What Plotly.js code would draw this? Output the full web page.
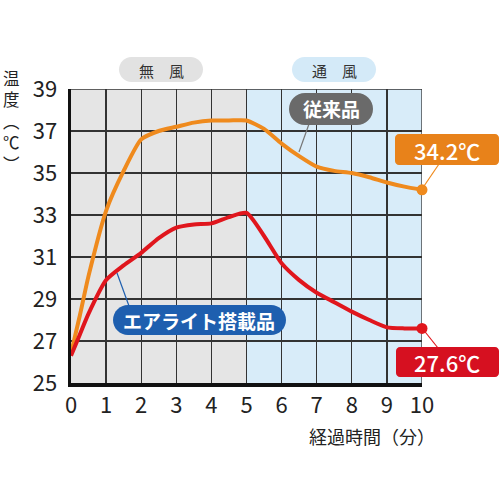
<!DOCTYPE html>
<html><head><meta charset="utf-8">
<script src="https://cdn.plot.ly/plotly-3.0.1.min.js"></script>
<style>html,body{margin:0;padding:0;background:#fff}#chart{width:500px;height:500px}</style>
</head><body><div id="chart"></div>
<script>
// ---- data ----
const minutes = [0,0.25,0.5,1,1.5,2,2.5,3,3.5,4,4.5,5,5.5,6,6.5,7,7.5,8,8.5,9,9.5,10];
const conventional = [26.4,28.2,30.1,33.2,35.1,36.6,37.0,37.2,37.4,37.5,37.5,37.5,37.1,36.4,35.8,35.3,35.1,35.0,34.8,34.55,34.35,34.2];
const airlite = [26.3,27.3,28.3,29.9,30.6,31.2,31.9,32.4,32.55,32.6,32.9,33.1,32.0,30.7,29.9,29.3,28.85,28.4,28.0,27.65,27.6,27.6];
const xTicks = [0,1,2,3,4,5,6,7,8,9,10];
const yTicks = [25,27,29,31,33,35,37,39];
const seriesNames = ['従来品','エアライト搭載品'];
const zoneNames = ['無　風','通　風'];
const yTitle = '温度︵℃︶';
const xTitle = '経過時間（分）';

// ---- layout helpers (pixel -> paper) ----
const L=71, R=78, T=89, B=117, W=500-L-R, H=500-T-B;
const px = x => (x-L)/W;
const py = y => (500-B-y)/H;
function rr(x0,y0,x1,y1,r){
  const k=0.5523*r;
  const p=(x,y)=>px(x).toFixed(5)+','+py(y).toFixed(5);
  return 'M'+p(x0+r,y0)+' L'+p(x1-r,y0)+' C'+p(x1-r+k,y0)+' '+p(x1,y0+r-k)+' '+p(x1,y0+r)+
    ' L'+p(x1,y1-r)+' C'+p(x1,y1-r+k)+' '+p(x1-r+k,y1)+' '+p(x1-r,y1)+
    ' L'+p(x0+r,y1)+' C'+p(x0+r-k,y1)+' '+p(x0,y1-r+k)+' '+p(x0,y1-r)+
    ' L'+p(x0,y0+r)+' C'+p(x0,y0+r-k)+' '+p(x0+r-k,y0)+' '+p(x0+r,y0)+' Z';
}
function box(x0,y0,x1,y1,r,color){
  return {type:'path',xref:'paper',yref:'paper',path:rr(x0,y0,x1,y1,r),fillcolor:color,line:{width:0},layer:'above'};
}
function seg(x0,y0,x1,y1,color){
  return {type:'line',xref:'paper',yref:'paper',x0:px(x0),y0:py(y0),x1:px(x1),y1:py(y1),line:{color:color,width:1.2},layer:'above'};
}
function txt(x,y,text,size,color,weight,extra){
  return Object.assign({xref:'paper',yref:'paper',x:px(x),y:py(y),text:text,showarrow:false,
    xanchor:'center',yanchor:'middle',font:{family:'"Noto Sans CJK JP", "Noto Sans", sans-serif',size:size,color:color,weight:weight||400}},extra||{});
}

const ORANGE='#ef8a1d', RED='#e0161d';
const lastC = conventional[conventional.length-1];
const lastA = airlite[airlite.length-1];
const lastT = minutes[minutes.length-1];

const traces = [
  {x:minutes,y:conventional,name:seriesNames[0],mode:'lines',line:{color:ORANGE,width:4,shape:'spline',smoothing:0.6},hoverinfo:'skip'},
  {x:minutes,y:airlite,name:seriesNames[1],mode:'lines',line:{color:RED,width:4,shape:'spline',smoothing:0.6},hoverinfo:'skip'},
  {x:[lastT],y:[lastC],mode:'markers',marker:{color:ORANGE,size:11},cliponaxis:false,hoverinfo:'skip'},
  {x:[lastT],y:[lastA],mode:'markers',marker:{color:RED,size:11},cliponaxis:false,hoverinfo:'skip'}
];

const shapes = [
  {type:'rect',xref:'x',yref:'y',x0:0,x1:5,y0:25,y1:39,fillcolor:'#e5e5e5',line:{width:0},layer:'below'},
  {type:'rect',xref:'x',yref:'y',x0:5,x1:10,y0:25,y1:39,fillcolor:'#d8ecf9',line:{width:0},layer:'below'},
  {type:'line',xref:'x',yref:'y',x0:0,x1:10,y0:39,y1:39,line:{color:'#333',width:1.3},layer:'below'},
  {type:'line',xref:'x',yref:'y',x0:10,x1:10,y0:25,y1:39,line:{color:'#333',width:1.3},layer:'below'},
  box(119,57,203,82,12.5,'#e2e2e2'),
  box(292,57,376,82,12.5,'#d4eaf8'),
  seg(309,124,299,152,'#777'),
  box(289,93,373,125,16,'#6a6a6a'),
  seg(439,164,422,189,ORANGE),
  box(395,134,499,165,4,'#e8821a'),
  seg(422,328,438,348,RED),
  box(396,347,499,377,4,'#d61020'),
  seg(129,306,117,273,'#1e5faf'),
  box(113,305,286,335,15,'#1e5faf')
];

const annotations = [
  txt(161,70,zoneNames[0],15,'#333'),
  txt(334,70,zoneNames[1],15,'#333'),
  txt(331,109,seriesNames[0],19,'#fff',700),
  txt(447,150,lastC.toFixed(1)+'℃',22,'#fff',500),
  txt(447,362,lastA.toFixed(1)+'℃',22,'#fff',500),
  txt(199,320,seriesNames[1],19,'#fff',700),
  txt(372,436,xTitle,18,'#222'),
  txt(11,121,yTitle.split('').join('<br>'),16.5,'#222')
];

const axisFont = {family:'"Noto Sans CJK JP", "Noto Sans", sans-serif',size:22,color:'#222'};
const layout = {
  width:500,height:500,
  margin:{l:L,r:R,t:T,b:B,pad:0},
  paper_bgcolor:'#fff',plot_bgcolor:'rgba(0,0,0,0)',
  showlegend:false,
  xaxis:{range:[0,10],tickvals:xTicks,ticktext:xTicks.map(String),showgrid:true,gridcolor:'#333',gridwidth:1.3,
    zeroline:false,showline:true,linecolor:'#111',linewidth:3.5,ticks:'',tickfont:axisFont,fixedrange:true},
  yaxis:{range:[25,39],tickvals:yTicks,ticktext:yTicks.map(String),showgrid:true,gridcolor:'#333',gridwidth:1.3,
    zeroline:false,showline:true,linecolor:'#111',linewidth:3.5,ticks:'',ticklabelstandoff:6,tickfont:axisFont,fixedrange:true},
  shapes:shapes,
  annotations:annotations
};
Plotly.newPlot('chart',traces,layout,{displayModeBar:false,staticPlot:true});
</script>
</body></html>
